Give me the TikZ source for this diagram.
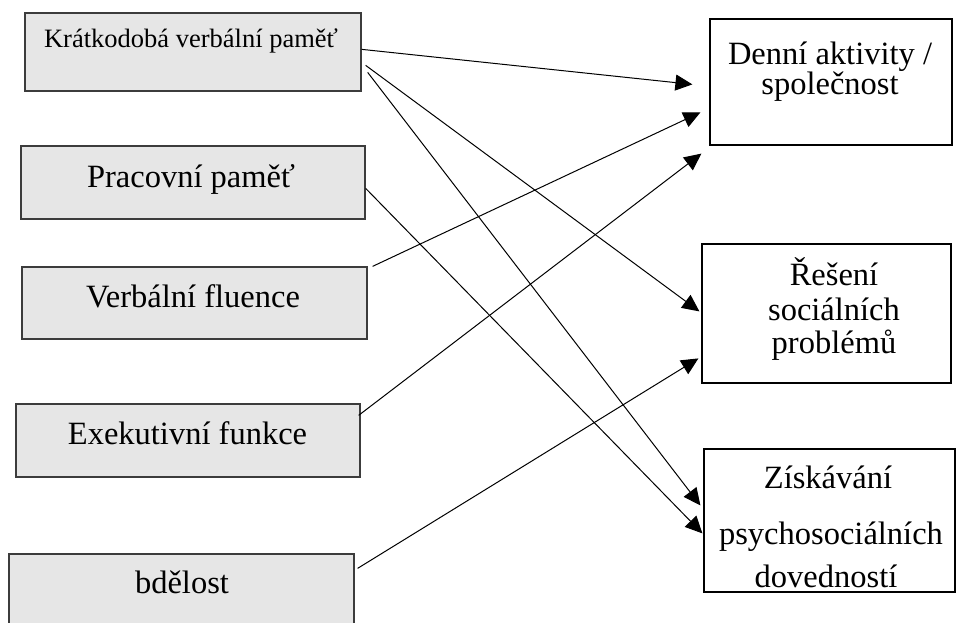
\documentclass[tikz,border=0pt]{standalone}
\usepackage{fontspec}
\setmainfont{Liberation Serif}
\usetikzlibrary{arrows.meta, calc}
\definecolor{boxgray}{RGB}{230,230,230}
\definecolor{edgegray}{RGB}{60,60,60}
\tikzset{
  inbox/.style={rectangle, draw=edgegray, fill=boxgray, line width=1.3pt, inner sep=0pt},
  outbox/.style={rectangle, draw=black, fill=white, line width=1.2pt, inner sep=0pt},
  lbl/.style={anchor=base, inner sep=0pt, font=\fontsize{32.5}{38}\selectfont},
  smalllbl/.style={lbl, font=\fontsize{26.5}{30}\selectfont},
  arrow/.style={-{Triangle[length=17pt, width=16pt]}, line width=1pt},
}

\begin{document}
\begin{tikzpicture}[x=1pt, y=-1pt]
  \clip (0,0) rectangle (961,623);

  % left column
  \node[inbox, minimum width=336pt, minimum height=78pt] (kvp) at (193,52) {};
  \node[smalllbl] (kvpt) at (191,48) {Krátkodobá verbální paměť};
  \node[inbox, minimum width=344pt, minimum height=73pt] (pp) at (193,182.5) {};
  \node[lbl] (ppt) at (191,187) {Pracovní paměť};
  \node[inbox, minimum width=345pt, minimum height=72pt] (vf) at (194.5,303) {};
  \node[lbl] (vft) at (193,307) {Verbální fluence};
  \node[inbox, minimum width=344pt, minimum height=73pt] (ef) at (188,440.5) {};
  \node[lbl] (eft) at (187.5,444) {Exekutivní funkce};
  \node[inbox, minimum width=345pt, minimum height=86pt] (bd) at (181.5,597) {};
  \node[lbl] (bdt) at (182,593) {bdělost};

  % right column
  \node[outbox, minimum width=242pt, minimum height=126pt] (den) at (831,82) {};
  \node[lbl] (dent1) at (830,65) {Denní aktivity /};
  \node[lbl] (dent2) at (830,95) {společnost};
  \node[outbox, minimum width=249pt, minimum height=139pt] (res) at (826.5,313.5) {};
  \node[lbl] (rest1) at (834,285) {Řešení};
  \node[lbl] (rest2) at (834,320) {sociálních};
  \node[lbl] (rest3) at (834,353) {problémů};
  \node[outbox, minimum width=251pt, minimum height=143pt] (zis) at (829.5,520.5) {};
  \node[lbl] (zist1) at (828,488) {Získávání};
  \node[lbl] (zist2) at (831,544) {psychosociálních};
  \node[lbl] (zist3) at (826,587) {dovedností};

  % connectors
  \draw[arrow] ($(kvp.north east)+(0,37)$) -- ($(den.north west)+(-17,66)$);
  \draw[arrow] ($(kvp.north east)+(4,53)$) -- ($(res.north west)+(-2,68)$);
  \draw[arrow] ($(kvp.north east)+(6,60)$) -- ($(zis.north west)+(-3,57)$);
  \draw[arrow] ($(pp.north east)+(0,43)$) -- ($(zis.north west)+(-1,85)$);
  \draw[arrow] ($(vf.north east)+(5,0)$) -- ($(den.north west)+(-9,94)$);
  \draw[arrow] ($(ef.north east)+(-2,12)$) -- ($(den.south west)+(-8,8)$);
  \draw[arrow] ($(bd.north east)+(3,15)$) -- ($(res.north west)+(-3,115)$);
\end{tikzpicture}
\end{document}
